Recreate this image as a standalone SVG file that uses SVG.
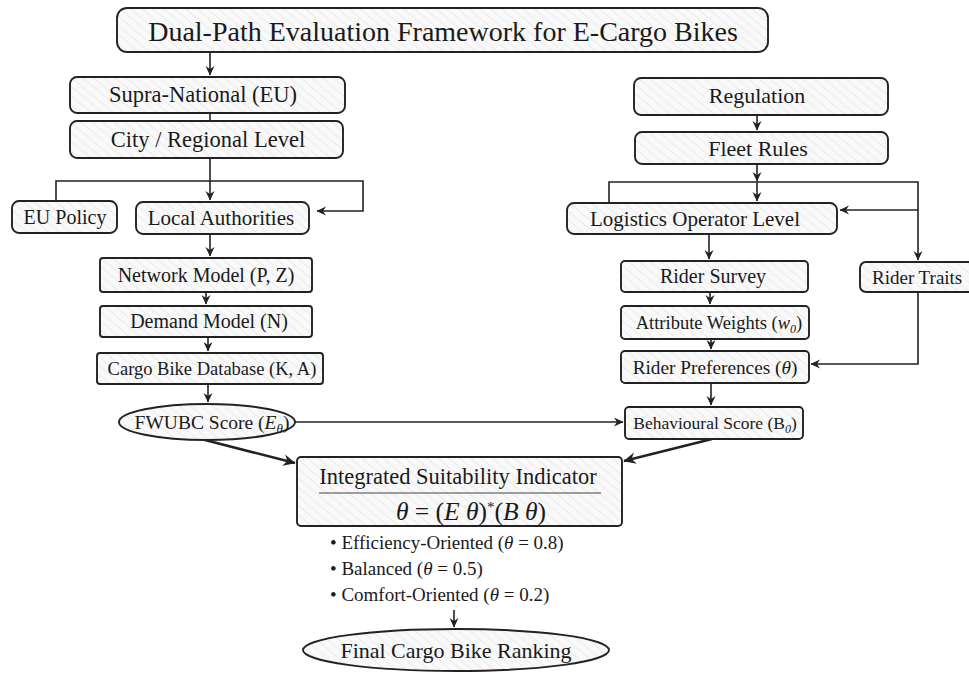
<svg xmlns="http://www.w3.org/2000/svg" width="969" height="674" viewBox="0 0 969 674">
<defs>
<pattern id="hatch" patternUnits="userSpaceOnUse" width="7" height="7" patternTransform="rotate(-50)">
<rect width="7" height="7" fill="#f9f9f9"/>
<line x1="0" y1="0" x2="0" y2="7" stroke="#e3e3e3" stroke-width="1.2"/>
</pattern>
<marker id="arr" viewBox="0 0 10 10" refX="9" refY="5" markerWidth="10" markerHeight="10" markerUnits="userSpaceOnUse" orient="auto">
<path d="M0,0.5 L9.5,5 L0,9.5 L3,5 Z" fill="#222"/>
</marker>
<marker id="arrB" viewBox="0 0 10 10" refX="9" refY="5" markerWidth="13" markerHeight="13" markerUnits="userSpaceOnUse" orient="auto">
<path d="M0,0.5 L9.5,5 L0,9.5 L3,5 Z" fill="#222"/>
</marker>
</defs>
<style>
.box{fill:url(#hatch);stroke:#222;stroke-width:1.9}
.t{font-family:"Liberation Serif","DejaVu Serif",serif;font-size:21px;fill:#1a1a1a;text-anchor:middle}
.tl{font-family:"Liberation Serif","DejaVu Serif",serif;font-size:19px;fill:#1a1a1a}
.c{fill:none;stroke:#222;stroke-width:1.6}
.ca{fill:none;stroke:#222;stroke-width:1.6;marker-end:url(#arr)}
.cb{fill:none;stroke:#222;stroke-width:2.6;marker-end:url(#arrB)}
.i{font-style:italic}
</style>
<rect width="969" height="674" fill="#ffffff"/>

<g id="connectors">
<path class="ca" d="M210,52 V75"/>
<path class="c" d="M210,113 V121"/>
<path class="ca" d="M210,158 V200"/>
<path class="ca" d="M56,201 V181 H363 V211 H317"/>
<path class="ca" d="M210,234 V256"/>
<path class="ca" d="M206,292 V304"/>
<path class="ca" d="M208,337 V351"/>
<path class="ca" d="M208,384 V402"/>
<path class="ca" d="M295,422 H623"/>
<path class="cb" d="M205,440 L295,463"/>
<path class="cb" d="M712,439 L624,461"/>
<path class="ca" d="M757,115 V130"/>
<path class="ca" d="M757,164 V181"/>
<path class="ca" d="M757,182 V201"/>
<path class="ca" d="M609,203 V182 H918 V260"/>
<path class="ca" d="M918,210 H840"/>
<path class="ca" d="M709,234 V259"/>
<path class="ca" d="M710,292 V304"/>
<path class="ca" d="M711,339 V349"/>
<path class="ca" d="M711,383 V405"/>
<path class="ca" d="M918,292 V364 H811"/>
<path class="ca" d="M454,610 V627"/>
</g>

<g id="title">
<rect class="box" x="117" y="8" width="651" height="44" rx="10"/>
<text class="t" x="443" y="41" style="font-size:28px">Dual-Path Evaluation Framework for E-Cargo Bikes</text>
</g>
<g id="supra">
<rect class="box" x="70" y="77" width="275" height="36" rx="7"/>
<text class="t" x="203" y="102" style="font-size:22.5px">Supra-National (EU)</text>
</g>
<g id="city">
<rect class="box" x="70" y="121" width="273" height="37" rx="7"/>
<text class="t" x="208" y="147" style="font-size:22.5px">City / Regional Level</text>
</g>
<g id="eupolicy">
<rect class="box" x="12" y="201" width="105" height="32" rx="7"/>
<text class="t" x="65" y="224" style="font-size:20px">EU Policy</text>
</g>
<g id="localauth">
<rect class="box" x="136" y="202" width="173" height="32" rx="7"/>
<text class="t" x="221" y="225">Local Authorities</text>
</g>
<g id="network">
<rect class="box" x="100" y="258" width="212" height="34" rx="3"/>
<text class="t" x="206" y="282" style="font-size:20px">Network Model (P, Z)</text>
</g>
<g id="demand">
<rect class="box" x="100" y="306" width="212" height="31" rx="3"/>
<text class="t" x="209" y="328" style="font-size:20px">Demand Model (N)</text>
</g>
<g id="cargodb">
<rect class="box" x="97" y="353" width="226" height="31" rx="3"/>
<text class="t" x="212" y="375" style="font-size:18.5px">Cargo Bike Database (K, A)</text>
</g>
<g id="fwubc">
<ellipse class="box" cx="207" cy="422" rx="88" ry="18"/>
<text class="t" x="212" y="429" style="font-size:19.5px">FWUBC Score (<tspan class="i">E</tspan><tspan class="i" font-size="13" dy="4">θ</tspan><tspan dy="-4">)</tspan></text>
</g>
<g id="regulation">
<rect class="box" x="634" y="78" width="254" height="37" rx="7"/>
<text class="t" x="757" y="103" style="font-size:22px">Regulation</text>
</g>
<g id="fleet">
<rect class="box" x="635" y="132" width="253" height="32" rx="7"/>
<text class="t" x="758" y="156" style="font-size:22px">Fleet Rules</text>
</g>
<g id="logistics">
<rect class="box" x="567" y="203" width="270" height="31" rx="7"/>
<text class="t" x="695" y="226">Logistics Operator Level</text>
</g>
<g id="ridersurvey">
<rect class="box" x="621" y="261" width="187" height="31" rx="4"/>
<text class="t" x="713" y="283" style="font-size:20px">Rider Survey</text>
</g>
<g id="attrweights">
<rect class="box" x="621" y="306" width="188" height="33" rx="4"/>
<text class="t" x="719" y="329" style="font-size:18.5px">Attribute Weights (<tspan class="i">w</tspan><tspan class="i" font-size="12" dy="4">0</tspan><tspan dy="-4">)</tspan></text>
</g>
<g id="riderpref">
<rect class="box" x="621" y="351" width="188" height="32" rx="4"/>
<text class="t" x="715" y="374" style="font-size:19.3px">Rider Preferences (<tspan class="i">θ</tspan>)</text>
</g>
<g id="behav">
<rect class="box" x="625" y="407" width="178" height="32" rx="4"/>
<text class="t" x="715" y="429" style="font-size:17.5px">Behavioural Score (B<tspan class="i" font-size="12" dy="4">0</tspan><tspan dy="-4">)</tspan></text>
</g>
<g id="ridertraits">
<rect class="box" x="860" y="262" width="120" height="30" rx="6"/>
<text class="tl" x="872" y="284" style="font-size:19px">Rider Traits</text>
</g>
<g id="integrated">
<rect class="box" x="297" y="457" width="325" height="69" rx="4"/>
<text class="t" x="458" y="484" style="font-size:22.5px">Integrated Suitability Indicator</text>
<line x1="319" y1="493" x2="601" y2="493" stroke="#444" stroke-width="1.2"/>
<text class="t" x="471" y="520" style="font-size:25.5px"><tspan class="i">θ</tspan> = (<tspan class="i">E θ</tspan>)<tspan font-size="15" dy="-8">*</tspan><tspan dy="8">(</tspan><tspan class="i">B θ</tspan>)</text>
</g>
<g id="scenarios">
<text class="tl" x="330" y="549">•  Efficiency-Oriented (<tspan class="i">θ</tspan> = 0.8)</text>
<text class="tl" x="330" y="575">•  Balanced (<tspan class="i">θ</tspan> = 0.5)</text>
<text class="tl" x="330" y="601">•  Comfort-Oriented (<tspan class="i">θ</tspan> = 0.2)</text>
</g>
<g id="final">
<ellipse class="box" cx="456" cy="650" rx="153" ry="21"/>
<text class="t" x="456" y="658" style="font-size:22px">Final Cargo Bike Ranking</text>
</g>
</svg>
